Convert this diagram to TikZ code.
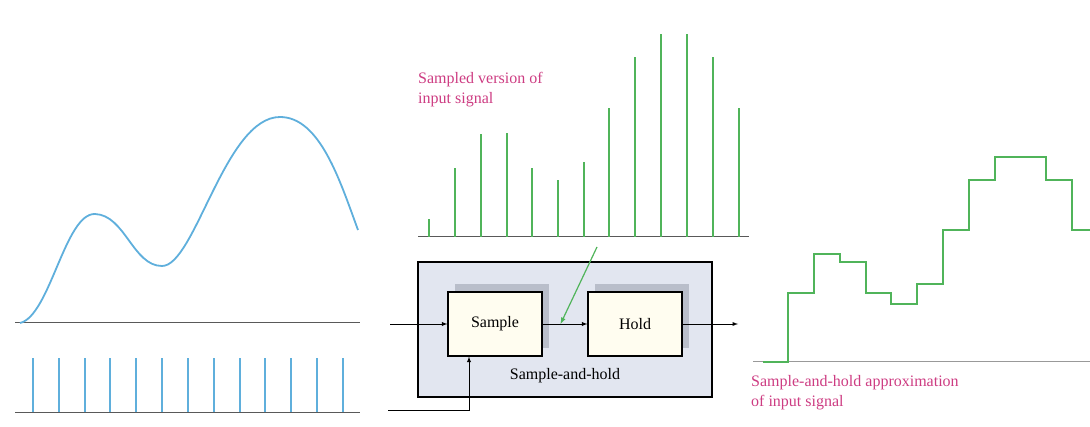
\documentclass[tikz,border=0pt]{standalone}
\usepackage{fontspec}
\setmainfont{Liberation Serif}
\usetikzlibrary{arrows}
\usetikzlibrary{calc}
\usetikzlibrary{shadows}

\definecolor{sigblue}{RGB}{95,175,220}
\definecolor{siggreen}{RGB}{80,180,90}
\definecolor{notepink}{RGB}{205,60,130}
\definecolor{boxfill}{RGB}{226,230,240}
\definecolor{blockfill}{RGB}{255,253,240}
\definecolor{shadowgray}{RGB}{185,190,202}

\tikzset{
	outerbox/.style={draw=black, line width=2.4pt, fill=boxfill, minimum width=294pt, minimum height=135pt},
	block/.style={draw=black, line width=1.2pt, fill=blockfill, minimum width=94pt, minimum height=64pt, inner sep=0pt,
		font=\fontsize{16}{19}\selectfont, drop shadow={shadow xshift=7pt, shadow yshift=8pt, fill=shadowgray, opacity=1}},
	note/.style={text=notepink, align=left, inner sep=0pt, font=\fontsize{16}{20}\selectfont},
	axisline/.style={black!65, line width=1pt}
}

\begin{document}
\begin{tikzpicture}[x=1pt, y=1pt]

	\useasboundingbox (0,0) rectangle (1090,426);

	%input signal
	\draw[axisline] (15,103) -- (360,103);
	\draw[sigblue, line width=1.8pt] (20,103) .. controls (50,110) and (65,213) .. (95,212) .. controls (125,211) and (133,160) .. (162,160) .. controls (195,160) and (225,309) .. (280,309) .. controls (320,309) and (340,245) .. (358,196);

	%sampling pulses
	\draw[axisline] (15,14) -- (360,14);
	\draw[sigblue, line width=1.6pt] (33,14) -- (33,68) (59,14) -- (59,68) (85,14) -- (85,68) (110,14) -- (110,68) (136,14) -- (136,68) (162,14) -- (162,68) (188,14) -- (188,68) (214,14) -- (214,68) (240,14) -- (240,68) (265,14) -- (265,68) (291,14) -- (291,68) (317,14) -- (317,68) (343,14) -- (343,68);

	%sampled version
	\draw[axisline] (418,189) -- (749,189);
	\draw[siggreen, line width=1.8pt] (429,189) -- (429,207) (455,189) -- (455,258) (481,189) -- (481,292) (507,189) -- (507,293) (532,189) -- (532,258) (558,189) -- (558,246) (584,189) -- (584,264) (609,189) -- (609,318) (635,189) -- (635,369) (661,189) -- (661,392) (687,189) -- (687,392) (713,189) -- (713,369) (739,189) -- (739,318);
	\node[note, anchor=north west] (sampnote) at (418,354) {Sampled version of\\input signal};

	%sample-and-hold
	\node[outerbox] (snh) at (565,96.5) {};
	\node[block] (smp) at (495,102) {Sample};
	\node[block] (hld) at (635,102) {Hold};
	\node[anchor=base, font=\fontsize{16}{19}\selectfont] (snhlabel) at (565,46) {Sample-and-hold};

	%connections
	\coordinate (in) at (390,102);
	\coordinate (out) at (738,102);
	\coordinate (clk) at (388,16);
	\coordinate (tap) at ($(smp.east)!0.4!(hld.west)$);
	\coordinate (tapfrom) at (597,179);
	\draw[-latex, line width=0.9pt] (in) -- (smp);
	\draw[-latex, line width=0.9pt] (smp) -- (hld);
	\draw[-latex, line width=0.9pt] (hld) -- (out);
	\draw[-latex, line width=0.9pt] (clk) -| ([xshift=-26pt]smp.south);
	\draw[-latex, siggreen, line width=1.2pt] (tapfrom) -- (tap);

	%sample-and-hold approximation
	\draw[black!40, line width=1pt] (753,64) -- (1090,64);
	\draw[siggreen, line width=1.8pt] (763,64) -- (788,64) -- (788,133) -- (814,133) -- (814,172) -- (840,172) -- (840,164) -- (866,164) -- (866,133) -- (891,133) -- (891,122) -- (917,122) -- (917,142) -- (943,142) -- (943,196) -- (969,196) -- (969,246) -- (995,246) -- (995,269) -- (1046,269) -- (1046,246) -- (1072,246) -- (1072,196) -- (1090,196);
	\node[note, anchor=north west] (holdnote) at (751,51) {Sample-and-hold approximation\\of input signal};

\end{tikzpicture}
\end{document}
